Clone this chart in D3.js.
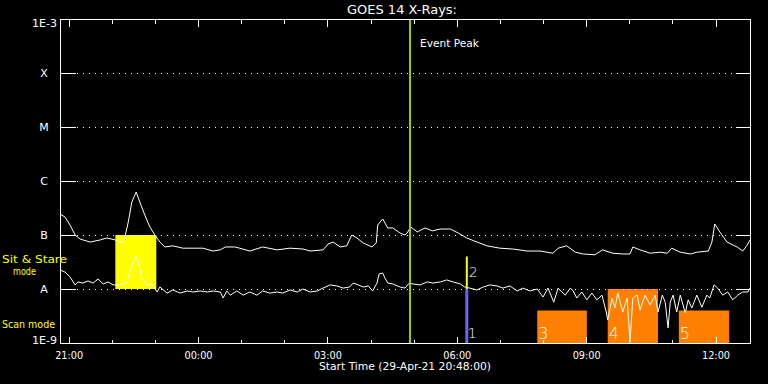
<!DOCTYPE html>
<html><head><meta charset="utf-8">
<script src="https://cdn.jsdelivr.net/npm/d3@7"></script>
<style>
html,body{margin:0;padding:0;background:#000;}
svg{display:block;background:#000;}
text{font-family:"DejaVu Sans",sans-serif;fill:#fff;}
</style></head><body>
<svg id="chart" width="768" height="384"></svg>
<script>
// ---------- data ----------
const title = "GOES 14 X-Rays:";
const startLabel = "Start Time (29-Apr-21 20:48:00)";
const startTime = "2021-04-29 20:48";
const endTime = "2021-04-30 12:48";
const classLabels = ["A", "B", "C", "M", "X"];
const classFlux = [1e-8, 1e-7, 1e-6, 1e-5, 1e-4];
const extentLabels = ["1E-9", "1E-3"];
const extentFlux = [1e-9, 1e-3];

// long channel (upper curve)
const longTimes = ["20:48","20:55","21:02","21:09","21:16","21:30","21:44","21:53","22:05","22:14","22:18","22:23","22:28","22:34","22:39","22:46","22:53","23:00","23:07","23:14","23:25","23:39","23:53","00:07","00:21","00:31","00:38","00:51","00:58","01:12","01:30","01:50","02:08","02:26","02:36","02:54","03:01","03:08","03:18","03:27","03:34","03:41","03:50","04:02","04:08","04:10","04:17","04:24","04:31","04:41","04:48","04:51","04:56","05:05","05:16","05:26","05:37","05:51","06:02","06:14","06:28","06:42","07:00","07:18","07:38","07:56","08:14","08:21","08:33","08:45","08:56","09:12","09:23","09:37","09:51","10:01","10:05","10:15","10:29","10:43","10:53","10:59","11:11","11:25","11:34","11:50","11:55","11:59","12:06","12:16","12:30","12:38","12:44","12:48"];
const longFlux = [2.45e-7,2.15e-7,1.53e-7,1.0e-7,8.4e-8,7.4e-8,8.1e-8,8.8e-8,8.1e-8,7.1e-8,8.8e-8,1.74e-7,4.1e-7,6.25e-7,4.1e-7,2.34e-7,1.41e-7,1.0e-7,7.4e-8,6.0e-8,6.3e-8,5.7e-8,5.7e-8,5.7e-8,5.05e-8,5.3e-8,6.0e-8,6.0e-8,5.7e-8,5.05e-8,6.0e-8,5.3e-8,5.7e-8,5.5e-8,5.05e-8,5.3e-8,6.8e-8,7.4e-8,6.0e-8,6.3e-8,1.0e-7,8.8e-8,7.1e-8,6.0e-8,7.1e-8,1.53e-7,1.98e-7,1.35e-7,1.35e-7,1.09e-7,1.0e-7,1.09e-7,1.41e-7,1.14e-7,1.35e-7,1.19e-7,1.29e-7,1.29e-7,1.09e-7,8.8e-8,7.4e-8,6.3e-8,5.7e-8,5.5e-8,5.05e-8,5.05e-8,4.6e-8,5.7e-8,6.3e-8,4.8e-8,4.45e-8,4.3e-8,5.3e-8,4.6e-8,4.45e-8,4.45e-8,6.0e-8,5.3e-8,4.6e-8,4.8e-8,4.6e-8,5.7e-8,4.8e-8,4.45e-8,4.8e-8,5.05e-8,7.4e-8,1.6e-7,1.14e-7,7.4e-8,6.0e-8,5.05e-8,6.5e-8,8.1e-8];

// short channel (lower curve)
const shortTimes = ["20:48","20:55","21:02","21:09","21:13","21:20","21:27","21:34","21:41","21:48","21:55","22:02","22:09","22:21","22:25","22:30","22:34","22:37","22:42","22:49","22:56","23:03","23:07","23:17","23:25","23:35","23:45","23:53","00:03","00:13","00:21","00:31","00:35","00:40","00:45","00:54","01:03","01:12","01:22","01:30","01:40","01:50","01:58","02:08","02:18","02:26","02:36","02:46","02:54","03:04","03:13","03:22","03:31","03:36","03:43","03:50","03:57","04:03","04:09","04:12","04:17","04:20","04:24","04:31","04:41","04:48","04:54","04:59","05:09","05:19","05:27","05:37","05:46","05:55","06:05","06:11","06:18","06:28","06:37","06:46","06:56","07:04","07:14","07:24","07:32","07:42","07:52","08:00","08:07","08:15","08:21","08:31","08:38","08:42","08:47","08:54","09:01","09:08","09:15","09:22","09:28","09:30","09:36","09:40","09:44","09:51","09:57","10:01","10:05","10:11","10:15","10:22","10:29","10:36","10:40","10:46","10:50","10:54","10:57","11:01","11:06","11:11","11:18","11:22","11:27","11:34","11:41","11:48","11:52","11:58","12:03","12:10","12:17","12:24","12:31","12:38","12:45","12:48"];
const shortFlux = [2.25e-8,2.06e-8,1.67e-8,1.19e-8,1.35e-8,1.29e-8,1.41e-8,1.29e-8,1.53e-8,1.24e-8,1.35e-8,1.19e-8,1.19e-8,1.29e-8,2.06e-8,3.16e-8,4.08e-8,3.16e-8,1.6e-8,1.19e-8,1.24e-8,8.8e-9,1.09e-8,8.4e-9,9.6e-9,8.4e-9,9.2e-9,8.8e-9,9.2e-9,8.8e-9,9.2e-9,8.8e-9,6.8e-9,9.2e-9,7.7e-9,9.2e-9,7.7e-9,8.8e-9,7.7e-9,9.2e-9,8.4e-9,8.8e-9,8.4e-9,9.6e-9,8.8e-9,1.0e-8,8.8e-9,9.2e-9,1.04e-8,1.19e-8,1.14e-8,1.04e-8,1.09e-8,1.29e-8,1.19e-8,1.09e-8,1.14e-8,9.2e-9,1.29e-8,1.9e-8,1.98e-8,1.6e-8,1.29e-8,1.24e-8,1.09e-8,1.04e-8,1.29e-8,1.24e-8,1.19e-8,1.35e-8,1.29e-8,1.35e-8,1.47e-8,1.35e-8,1.24e-8,1.09e-8,1.04e-8,9.6e-9,1.09e-8,1.19e-8,1.14e-8,1.04e-8,1.14e-8,9.2e-9,1.04e-8,9.2e-9,1.0e-8,7.1e-9,1.04e-8,5.7e-9,1.04e-8,7.7e-9,1.04e-8,9.2e-9,6.8e-9,8.8e-9,6.3e-9,8.4e-9,6.3e-9,7.7e-9,3.75e-9,2.67e-9,6.8e-9,4.45e-9,8.4e-9,3.75e-9,6.8e-9,1.04e-9,6.8e-9,7.7e-9,4.08e-9,7.7e-9,5.05e-9,7.7e-9,3.75e-9,7.7e-9,5.7e-9,1.9e-9,5.7e-9,7.7e-9,3.75e-9,7.7e-9,3.6e-9,6.3e-9,4.45e-9,7.7e-9,4.6e-9,7.7e-9,6.8e-9,1.19e-8,1.04e-8,7.7e-9,8.8e-9,6.3e-9,7.7e-9,8.8e-9,8.8e-9,1.04e-8];

// observation windows
const sitStareStart = ["22:05"];
const sitStareEnd = ["23:02"];
const sitStareTop = [1e-7];
const sitStareBottom = [1e-8];
const scanLabels = ["3", "4", "5"];
const scanStart = ["07:52", "09:30", "11:09"];
const scanEnd = ["09:01", "10:40", "12:19"];
const scanTop = [4e-9, 1e-8, 4e-9];
const eventPeakTime = "04:55";
const markerLabels = ["1", "2"];
const markerTimes = ["06:14", "06:14"];
const markerFrom = [1e-9, 1e-8];
const markerTo = [1e-8, 4e-8];

// ---------- drawing ----------
const W = 768, H = 384;
const L = 60, R = 750, T = 19, B = 343;
const svg = d3.select("#chart");
const parse = d3.utcParse("%Y-%m-%d %H:%M");
function toDate(hm) {
  const h = +hm.split(":")[0];
  return parse((h >= 20 ? "2021-04-29 " : "2021-04-30 ") + hm);
}
const x = d3.scaleUtc().domain([parse(startTime), parse(endTime)]).range([L, R]);
const y = d3.scaleLog().domain(extentFlux).range([B, T]);

const COL_YEL = "#ffff00", COL_ORG = "#ff8000", COL_GRN = "#9acd00", COL_BLU = "#6464ff";

// sit & stare box
sitStareStart.forEach((s, i) => {
  svg.append("rect")
    .attr("x", x(toDate(s))).attr("y", y(sitStareTop[i]))
    .attr("width", x(toDate(sitStareEnd[i])) - x(toDate(s)))
    .attr("height", y(sitStareBottom[i]) - y(sitStareTop[i]))
    .attr("fill", COL_YEL);
});
// scan boxes
scanStart.forEach((s, i) => {
  svg.append("rect")
    .attr("x", x(toDate(s))).attr("y", y(scanTop[i]))
    .attr("width", x(toDate(scanEnd[i])) - x(toDate(s)))
    .attr("height", y(1e-9) - y(scanTop[i]))
    .attr("fill", COL_ORG);
});

// dotted grid
svg.append("g").selectAll("line").data(classFlux).join("line")
  .attr("x1", L + 17).attr("x2", R - 15)
  .attr("y1", d => Math.round(y(d)) + 0.5).attr("y2", d => Math.round(y(d)) + 0.5)
  .attr("stroke", "#fff").attr("stroke-width", 1).attr("stroke-dasharray", "1,5")
  .attr("shape-rendering", "crispEdges");

// curves
const line = d3.line().x(d => x(d.t)).y(d => y(d.f));
const longData = longTimes.map((t, i) => ({t: toDate(t), f: longFlux[i]}));
const shortData = shortTimes.map((t, i) => ({t: toDate(t), f: shortFlux[i]}));
svg.append("path").datum(longData).attr("d", line)
  .attr("fill", "none").attr("stroke", "#fff").attr("stroke-width", 1);
svg.append("path").datum(shortData).attr("d", line)
  .attr("fill", "none").attr("stroke", "#fff").attr("stroke-width", 1);

// event peak
const xp = x(toDate(eventPeakTime));
svg.append("line").attr("x1", xp).attr("x2", xp).attr("y1", T).attr("y2", B)
  .attr("stroke", COL_GRN).attr("stroke-width", 2);
svg.append("text").attr("x", xp + 10).attr("y", 47).attr("font-size", 11)
  .attr("textLength", 59).attr("lengthAdjust", "spacingAndGlyphs").text("Event Peak");

// markers 1, 2
markerTimes.forEach((t, i) => {
  const xm = x(toDate(t));
  svg.append("line").attr("x1", xm).attr("x2", xm)
    .attr("y1", y(markerFrom[i])).attr("y2", y(markerTo[i]))
    .attr("stroke", i === 0 ? COL_BLU : COL_YEL).attr("stroke-width", i === 0 ? 3 : 2);
});
svg.append("text").attr("x", x(toDate(markerTimes[0])) + 1).attr("y", 338)
  .attr("font-size", 14).attr("font-weight", 300).text(markerLabels[0]);
svg.append("text").attr("x", x(toDate(markerTimes[1])) + 2).attr("y", 277)
  .attr("font-size", 14).attr("font-weight", 300).text(markerLabels[1]);
// scan labels
scanStart.forEach((s, i) => {
  svg.append("text").attr("x", x(toDate(s)) + 1).attr("y", 339)
    .attr("font-size", 16).attr("font-weight", 300).text(scanLabels[i]);
});

// frame
svg.append("rect").attr("x", L + 0.5).attr("y", T + 0.5).attr("width", R - L).attr("height", B - T)
  .attr("fill", "none").attr("stroke", "#fff").attr("stroke-width", 1)
  .attr("shape-rendering", "crispEdges");

// time axes
const hourly = d3.utcHour.every(1).range(parse(startTime), parse(endTime));
const major = d3.utcHour.every(3).range(parse(startTime), parse(endTime));
function styleAxis(g) {
  g.select(".domain").remove();
  g.selectAll("line").attr("stroke", "#fff").attr("shape-rendering", "crispEdges");
}
svg.append("g").attr("transform", `translate(0,${T + 0.5})`)
  .call(d3.axisTop(x).tickValues(hourly).tickSizeInner(-4).tickSizeOuter(0).tickFormat(""))
  .call(styleAxis);
svg.append("g").attr("transform", `translate(0,${T + 0.5})`)
  .call(d3.axisTop(x).tickValues(major).tickSizeInner(-7).tickSizeOuter(0).tickFormat(""))
  .call(styleAxis);
svg.append("g").attr("transform", `translate(0,${B + 0.5})`)
  .call(d3.axisBottom(x).tickValues(hourly).tickSizeInner(-4).tickSizeOuter(0).tickFormat(""))
  .call(styleAxis);
const bx = svg.append("g").attr("transform", `translate(0,${B + 0.5})`)
  .call(d3.axisBottom(x).tickValues(major).tickSizeInner(-7).tickSizeOuter(0).tickFormat(d3.utcFormat("%H:%M")))
  .call(styleAxis);
bx.selectAll("text").attr("y", 15.5).attr("dy", null).attr("fill", "#fff")
  .attr("font-family", "DejaVu Sans").attr("font-size", 10)
  .attr("textLength", 28).attr("lengthAdjust", "spacingAndGlyphs");

// flux axes
const ly = svg.append("g").attr("transform", `translate(${L + 0.5},0)`)
  .call(d3.axisLeft(y).tickValues(classFlux).tickSizeInner(-15).tickSizeOuter(0)
    .tickFormat((d, i) => classLabels[i]))
  .call(styleAxis);
ly.selectAll("text").attr("x", -16.5).attr("dy", "0.36em").attr("text-anchor", "middle")
  .attr("fill", "#fff").attr("font-family", "DejaVu Sans").attr("font-size", 11);
svg.append("g").attr("transform", `translate(${R + 0.5},0)`)
  .call(d3.axisRight(y).tickValues(classFlux).tickSizeInner(-15).tickSizeOuter(0).tickFormat(""))
  .call(styleAxis);
const ey = svg.append("g").attr("transform", `translate(${L + 0.5},0)`)
  .call(d3.axisLeft(y).tickValues(extentFlux).tickSize(0).tickFormat((d, i) => extentLabels[i]))
  .call(styleAxis);
ey.selectAll("text").attr("x", -3.5).attr("dy", (d, i) => i === 0 ? "0em" : "0.72em")
  .attr("text-anchor", "end").attr("fill", "#fff").attr("font-family", "DejaVu Sans").attr("font-size", 11)
  .attr("textLength", 25).attr("lengthAdjust", "spacingAndGlyphs");

// titles and mode labels
svg.append("text").attr("x", 347).attr("y", 14).attr("font-size", 12)
  .attr("textLength", 110).attr("lengthAdjust", "spacingAndGlyphs").text(title);
svg.append("text").attr("x", 319).attr("y", 370).attr("font-size", 10.5)
  .attr("textLength", 172).attr("lengthAdjust", "spacingAndGlyphs").text(startLabel);
svg.append("text").attr("x", 2).attr("y", 263).attr("font-size", 11).style("fill", COL_YEL)
  .attr("textLength", 65).attr("lengthAdjust", "spacingAndGlyphs").text("Sit & Stare");
svg.append("text").attr("x", 13).attr("y", 275).attr("font-size", 11).style("fill", COL_YEL)
  .attr("textLength", 23).attr("lengthAdjust", "spacingAndGlyphs").text("mode");
svg.append("text").attr("x", 2).attr("y", 328).attr("font-size", 11).style("fill", COL_YEL)
  .attr("textLength", 53).attr("lengthAdjust", "spacingAndGlyphs").text("Scan mode");
</script>
</body></html>
